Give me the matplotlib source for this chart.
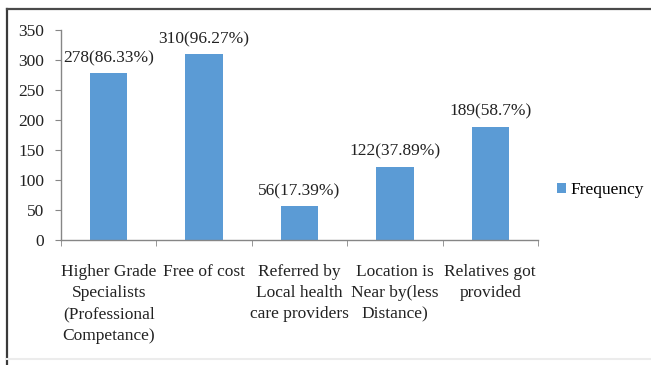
import matplotlib.pyplot as plt
from matplotlib.lines import Line2D

plt.rcParams['font.family'] = ['Liberation Serif', 'DejaVu Serif']

categories = ['Higher Grade\nSpecialists\n(Professional\nCompetance)',
              'Free of cost',
              'Referred by\nLocal health\ncare providers',
              'Location is\nNear by(less\nDistance)',
              'Relatives got\nprovided']
frequency = [278, 310, 56, 122, 189]
percent = ['86.33', '96.27', '17.39', '37.89', '58.7']
yticks = [0, 50, 100, 150, 200, 250, 300, 350]

W, H = 651, 365
fig = plt.figure(figsize=(6.51, 3.65), dpi=100)
ax = fig.add_axes([61 / W, 1 - 240 / H, 477 / W, 210 / H])

x = list(range(len(categories)))
bars = ax.bar(x, frequency, width=0.39, color='#5B9BD5', label='Frequency', zorder=2)
for xi, v, p in zip(x, frequency, percent):
    ax.annotate(f'{v}({p}%)', (xi, v), xytext=(0, 5), textcoords='offset points',
                ha='center', va='bottom', fontsize=12.5, color='#222222')

ax.set_xlim(-0.5, len(categories) - 0.5)
ax.set_ylim(0, 350)
ax.set_yticks(yticks)
ax.tick_params(axis='y', labelsize=12.5, length=4, color='#868686', pad=8, labelcolor='#222222')

# category labels centred, ticks on the category boundaries
ax.set_xticks(x)
ax.set_xticklabels(categories, fontsize=12.5, color='#222222', linespacing=1.45)
ax.tick_params(axis='x', length=0, pad=17)
ax.set_xticks([i - 0.5 for i in range(len(categories) + 1)], minor=True)
ax.tick_params(axis='x', which='minor', length=4, color='#868686')

for s in ['top', 'right']:
    ax.spines[s].set_visible(False)
for s in ['left', 'bottom']:
    ax.spines[s].set_color('#868686')
    ax.spines[s].set_linewidth(1.0)

ax.legend(loc='center left', bbox_to_anchor=(557 / W, 1 - 190 / H),
          bbox_transform=fig.transFigure, frameon=False, borderpad=0, borderaxespad=0,
          fontsize=12.5, handlelength=0.5, handleheight=0.5, handletextpad=0.3)

# outer frame
fig.add_artist(Line2D([7 / W, 7 / W], [0, 1 - 9 / H], color='#3a3a3a', lw=1.6,
                      transform=fig.transFigure))
fig.add_artist(Line2D([7 / W, 1], [1 - 9 / H, 1 - 9 / H], color='#4a4a4a', lw=1.6,
                      transform=fig.transFigure))
fig.add_artist(Line2D([7 / W, 1], [1 - 359 / H, 1 - 359 / H], color='#ececec', lw=1.5,
                      transform=fig.transFigure))

fig.savefig('out.png', dpi=100)
